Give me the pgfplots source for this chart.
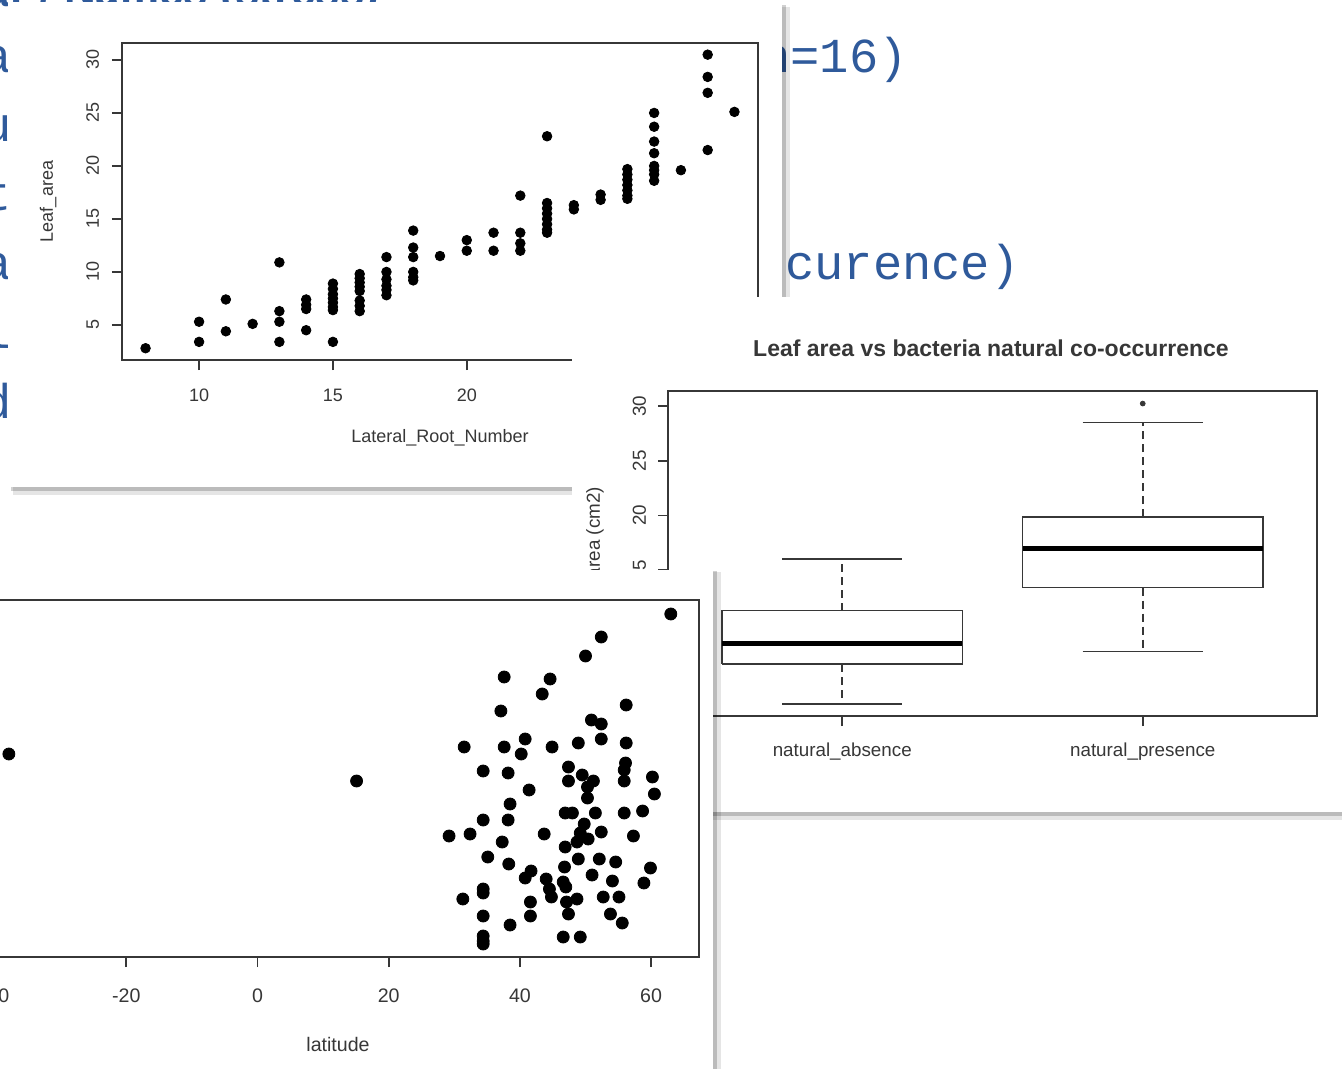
\documentclass[border=0pt]{standalone}
\usepackage{fontspec}
\setmainfont{Liberation Sans}
\newfontfamily\mono{Liberation Mono}
\usepackage{pgfplots}
\pgfplotsset{compat=1.18}
\usepackage{pgfplotstable}
\definecolor{slideblue}{RGB}{47,90,155}
\definecolor{rgray}{RGB}{55,55,55}

\pgfplotsset{
  rstyle/.style={
    scale only axis,
    axis line style={rgray, line width=0.9pt},
    every tick/.style={rgray, line width=0.9pt},
    tick align=outside,
    major tick length=5pt,
    tick pos=left,
    /pgf/number format/assume math mode=true,
    tick label style={text=rgray},
    label style={text=rgray},
  }
}

\pgfplotstableread{
x y
8 2.8
10 5.3
10 3.4
11 7.4
11 4.4
12 5.1
13 10.9
13 6.3
13 5.3
13 3.4
14 7.4
14 6.9
14 6.5
14 4.5
15 8.9
15 8.4
15 7.9
15 7.5
15 7.1
15 6.7
15 6.4
15 3.4
16 9.8
16 9.4
16 9.0
16 8.6
16 8.2
16 7.3
16 6.8
16 6.3
17 11.4
17 10.0
17 9.3
17 8.7
17 8.3
17 7.8
18 13.9
18 12.3
18 11.4
18 10.0
18 9.5
18 9.2
19 11.5
20 13.0
20 12.0
21 13.7
21 12.0
22 17.2
22 13.7
22 12.7
22 12.0
23 22.8
23 16.5
23 16.0
23 15.5
23 15.0
23 14.5
23 14.0
23 13.7
24 16.3
24 15.9
25 17.3
25 16.8
26 19.7
26 19.2
26 18.7
26 18.2
26 17.7
26 17.2
26 16.9
27 25.0
27 23.7
27 22.3
27 21.2
27 20.0
27 19.6
27 19.2
27 18.6
28 19.6
29 30.5
29 28.4
29 26.9
29 21.5
30 25.1
}\rootdata

\pgfplotstableread{
x y
-37.9 20.3
15.1 17.6
63.0 34.3
52.4 32.0
50.0 30.1
37.6 28.0
44.6 27.8
43.4 26.3
37.1 24.6
56.2 25.2
50.9 23.7
52.4 23.3
31.5 21.0
37.6 21.0
40.8 21.8
40.2 20.3
44.9 21.0
48.9 21.4
52.4 21.8
56.2 21.4
34.4 18.6
38.2 18.4
47.4 19.0
47.4 17.6
49.5 18.2
51.2 17.6
50.3 17.0
41.4 16.7
50.3 15.9
38.5 15.3
56.1 19.4
55.9 18.7
55.9 17.6
60.2 18.0
60.5 16.3
46.9 14.4
48.0 14.4
51.5 14.4
55.9 14.4
58.7 14.6
34.4 13.7
38.2 13.7
29.2 12.1
32.4 12.3
43.7 12.3
49.8 13.3
49.2 12.4
50.4 11.8
48.7 11.5
52.4 12.5
57.3 12.1
37.3 11.5
46.9 11.0
35.1 10.0
48.9 9.8
52.1 9.8
54.6 9.5
38.3 9.3
46.8 9.0
59.9 8.9
41.7 8.6
40.8 7.9
51.0 8.2
44.0 7.8
46.6 7.5
54.1 7.6
58.9 7.4
34.4 6.8
34.4 6.4
44.5 6.8
47.0 7.0
44.8 6.0
31.3 5.8
52.7 6.0
55.1 6.0
48.7 5.8
47.1 5.5
41.6 5.5
47.4 4.3
41.6 4.1
34.4 4.1
53.8 4.3
55.6 3.4
38.5 3.2
34.4 2.1
34.4 1.6
34.4 1.3
46.6 2.0
49.2 2.0
}\latdata

\begin{document}
\begin{tikzpicture}
\useasboundingbox (0pt,0pt) rectangle (671pt,-534.5pt);
\clip (0pt,0pt) rectangle (671pt,-534.5pt);

% ---------- slide background ----------
\begin{scope}[x=0.5pt,y=-0.5pt]
\fill[white] (0,0) rectangle (1342,1069);
\node[anchor=base east, inner sep=0pt, text=slideblue, font=\bfseries\fontsize{22}{24}\selectfont] at (380,7) {ar / Names (stress)};
\foreach \l/\yy in {a/73,u/142,t/211,a/280,l/349,d/418}{
  \node[anchor=base east, inner sep=0pt, text=slideblue, font=\mono\fontsize{24.4}{26}\selectfont] at (12,\yy) {\l};
}
\node[anchor=base east, inner sep=0pt, text=slideblue, font=\mono\fontsize{24.4}{26}\selectfont] at (908,73) {(n=16)};
\node[anchor=base east, inner sep=0pt, text=slideblue, font=\mono\fontsize{24.4}{26}\selectfont] at (1020,280) {co-occurence)};
% panel 1 shadow and body
\fill[black, opacity=0.10] (13,7) rectangle (790,495);
\fill[black, opacity=0.18] (11,5) rectangle (786,491);
\fill[white] (8,2) rectangle (782,487);
\end{scope}

% ---------- panel 1 : scatter ----------
\begin{axis}[rstyle,
  at={(61pt,-180pt)}, anchor=south west,
  width=318pt, height=158.5pt,
  xmin=7.12, xmax=30.88, ymin=1.69, ymax=31.6,
  xtick={10,15,20,25,30}, ytick={5,10,...,30},
  tick label style={font=\fontsize{9}{10}\selectfont},
  xticklabel shift=6pt, yticklabel shift=3pt,
  yticklabel style={rotate=90, anchor=south},
  xlabel={Lateral\_Root\_Number}, ylabel={Leaf\_area},
  label style={font=\fontsize{9}{10}\selectfont},
  xlabel style={at={(axis description cs:0.5,-0.246)}, anchor=center},
  ylabel style={at={(axis description cs:-0.116,0.5)}, anchor=center},
]
\addplot[only marks, mark=*, mark size=2.4pt, black] table[x=x,y=y] {\rootdata};
\end{axis}

\begin{scope}[x=0.5pt,y=-0.5pt]
\fill[black, opacity=0.10] (575,300) rectangle (1350,820);
\fill[black, opacity=0.18] (574,299) rectangle (1350,816);
\fill[white] (572,297) rectangle (1350,812);
\node[text=rgray, font=\bfseries\fontsize{11.5}{13}\selectfont] at (991,348) {Leaf area vs bacteria natural co-occurrence};
\end{scope}

% ---------- panel 2 : boxplot ----------
\begin{axis}[rstyle,
  at={(334pt,-358pt)}, anchor=south west,
  width=324.5pt, height=162.5pt,
  xmin=0.42, xmax=2.58, ymin=1.65, ymax=31.4,
  xtick={1,2}, xticklabels={natural\_absence, natural\_presence},
  ytick={5,10,...,30},
  tick label style={font=\fontsize{9.4}{11}\selectfont},
  xticklabel shift=5pt, yticklabel shift=2.5pt,
  yticklabel style={rotate=90, anchor=south},
  ylabel={Leaf area (cm2)},
  label style={font=\fontsize{9.4}{11}\selectfont},
  ylabel style={at={(axis description cs:-0.1125,0.5)}, anchor=center},
]
% natural_absence: whiskers 2.75 / 16.0, box 6.4 - 11.3, median 8.3
\addplot[rgray, line width=0.8pt, dash pattern=on 4pt off 2.5pt] coordinates {(1,11.3) (1,16.0)};
\addplot[rgray, line width=0.8pt, dash pattern=on 4pt off 2.5pt] coordinates {(1,6.4) (1,2.75)};
\addplot[rgray, line width=0.8pt] coordinates {(0.8,16.0) (1.2,16.0)};
\addplot[rgray, line width=0.8pt] coordinates {(0.8,2.75) (1.2,2.75)};
\addplot[rgray, line width=0.8pt, fill=white] coordinates {(0.6,6.4) (1.4,6.4) (1.4,11.3) (0.6,11.3) (0.6,6.4)};
\addplot[black, line width=2.4pt] coordinates {(0.6,8.3) (1.4,8.3)};
% natural_presence: whiskers 7.55 / 28.5, box 13.4 - 19.85, median 17.0, outlier 30.25
\addplot[rgray, line width=0.8pt, dash pattern=on 4pt off 2.5pt] coordinates {(2,19.85) (2,28.5)};
\addplot[rgray, line width=0.8pt, dash pattern=on 4pt off 2.5pt] coordinates {(2,13.4) (2,7.55)};
\addplot[rgray, line width=0.8pt] coordinates {(1.8,28.5) (2.2,28.5)};
\addplot[rgray, line width=0.8pt] coordinates {(1.8,7.55) (2.2,7.55)};
\addplot[rgray, line width=0.8pt, fill=white] coordinates {(1.6,13.4) (2.4,13.4) (2.4,19.85) (1.6,19.85) (1.6,13.4)};
\addplot[black, line width=2.4pt] coordinates {(1.6,17.0) (2.4,17.0)};
\addplot[only marks, mark=*, mark size=1.2pt, rgray] coordinates {(2,30.25)};
\end{axis}

\begin{scope}[x=0.5pt,y=-0.5pt]
\fill[black, opacity=0.10] (-10,572) rectangle (721,1080);
\fill[black, opacity=0.18] (-10,571) rectangle (717,1080);
\fill[white] (-10,570) rectangle (713,1080);
\end{scope}

% ---------- panel 3 : latitude scatter ----------
\begin{axis}[rstyle,
  at={(-11.5pt,-478.5pt)}, anchor=south west,
  width=361pt, height=178.5pt,
  xmin=-42.76, xmax=67.3, ymin=0, ymax=35.7,
  xtick={-40,-20,...,60}, ytick=\empty,
  tick label style={font=\fontsize{9.8}{11}\selectfont},
  xticklabel shift=7.5pt,
  xlabel={latitude},
  label style={font=\fontsize{9.8}{11}\selectfont},
  xlabel style={at={(axis description cs:0.5,-0.2437)}, anchor=center},
]
\addplot[only marks, mark=*, mark size=3.0pt, black] table[x=x,y=y] {\latdata};
\end{axis}
\end{tikzpicture}
\end{document}
